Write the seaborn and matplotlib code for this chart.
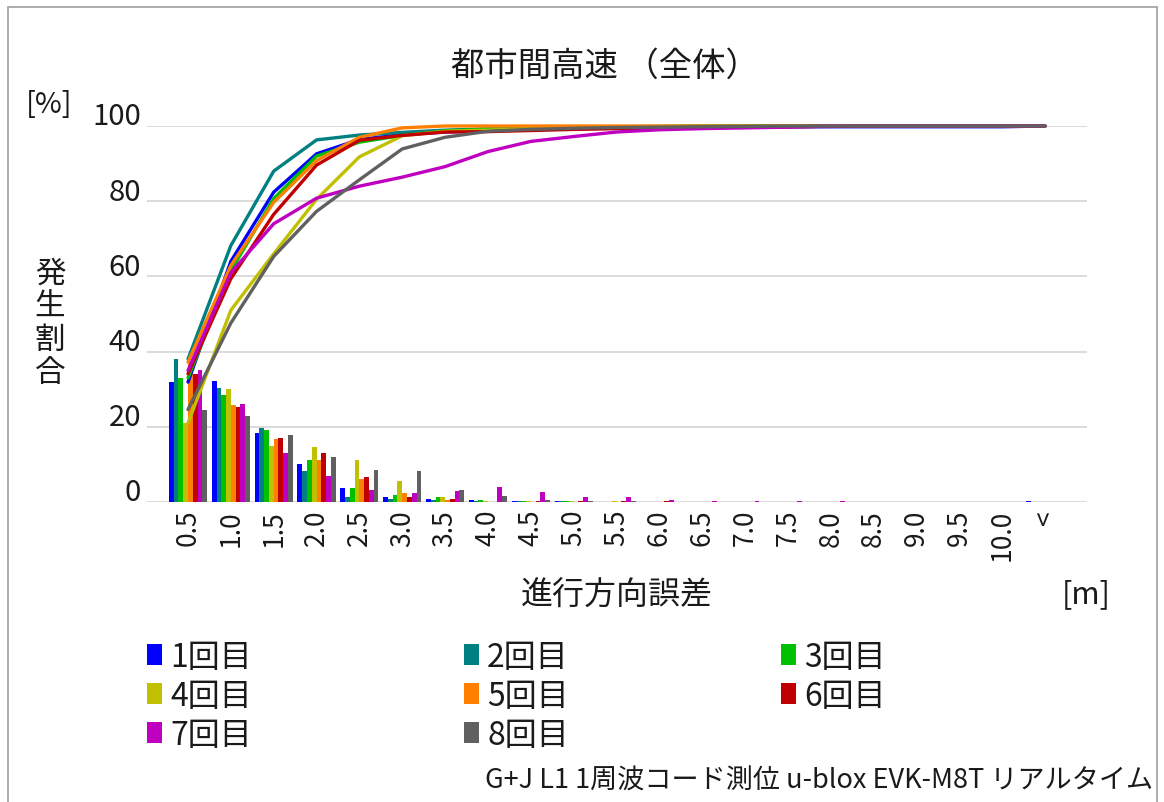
import numpy as np
import pandas as pd
import matplotlib
matplotlib.use("Agg")
import matplotlib.pyplot as plt
from matplotlib.patches import Patch
from matplotlib.lines import Line2D
import seaborn as sns

# Error bins along the travel direction [m]
bins = ["0.5", "1.0", "1.5", "2.0", "2.5", "3.0", "3.5", "4.0", "4.5", "5.0",
        "5.5", "6.0", "6.5", "7.0", "7.5", "8.0", "8.5", "9.0", "9.5", "10.0", "<"]

runs = ["1回目", "2回目", "3回目", "4回目", "5回目", "6回目", "7回目", "8回目"]
colors = ["#0000FF", "#008080", "#00C000", "#C0C000",
          "#FF8000", "#C00000", "#C000C0", "#606060"]

# Occurrence ratio per bin [%] for each run
run1 = [31.9, 32.1, 18.4, 10.2, 3.8, 1.3, 0.7, 0.4, 0.3, 0.2, 0.1, 0.1, 0.1, 0.1, 0.1, 0.0, 0.0, 0.0, 0.0, 0.0, 0.2]
run2 = [38.0, 30.2, 19.8, 8.3, 1.3, 0.7, 0.6, 0.3, 0.2, 0.2, 0.1, 0.1, 0.1, 0.1, 0.0, 0.0, 0.0, 0.0, 0.0, 0.0, 0.0]
run3 = [33.0, 28.5, 19.2, 11.3, 3.7, 1.8, 1.2, 0.5, 0.3, 0.2, 0.1, 0.1, 0.1, 0.0, 0.0, 0.0, 0.0, 0.0, 0.0, 0.0, 0.0]
run4 = [21.0, 30.0, 15.0, 14.5, 11.3, 5.6, 1.2, 0.3, 0.3, 0.2, 0.2, 0.1, 0.1, 0.1, 0.1, 0.0, 0.0, 0.0, 0.0, 0.0, 0.0]
run5 = [37.2, 25.7, 16.8, 11.1, 6.2, 2.5, 0.5, 0.0, 0.0, 0.0, 0.0, 0.0, 0.0, 0.0, 0.0, 0.0, 0.0, 0.0, 0.0, 0.0, 0.0]
run6 = [34.1, 25.3, 17.1, 13.1, 6.6, 1.3, 0.9, 0.1, 0.3, 0.3, 0.2, 0.2, 0.1, 0.1, 0.1, 0.1, 0.1, 0.0, 0.0, 0.0, 0.0]
run7 = [35.0, 26.0, 13.0, 6.8, 3.2, 2.4, 2.8, 4.0, 2.7, 1.3, 1.2, 0.6, 0.3, 0.2, 0.2, 0.3, 0.0, 0.0, 0.0, 0.0, 0.0]
run8 = [24.6, 23.0, 17.7, 12.0, 8.4, 8.2, 3.1, 1.6, 0.5, 0.3, 0.2, 0.1, 0.1, 0.1, 0.1, 0.0, 0.0, 0.0, 0.0, 0.0, 0.0]
series = [run1, run2, run3, run4, run5, run6, run7, run8]

yticks = [0, 20, 40, 60, 80, 100]

# Long-form tables: per-bin ratio and cumulative ratio
rows = []
for name, vals in zip(runs, series):
    cum = np.cumsum(vals)
    cum = cum / cum[-1] * 100.0
    for i, (b, v, c) in enumerate(zip(bins, vals, cum)):
        rows.append({"bin": b, "pos": i, "run": name, "pct": v, "cum": c})
df = pd.DataFrame(rows)

sns.set_theme(style="white")
plt.rcParams["font.family"] = ["Noto Sans CJK JP", "DejaVu Sans"]
TXT = "#1a1a1a"

W, H = 1164, 803
fig = plt.figure(figsize=(W / 100, H / 100), dpi=100)
fig.patch.set_facecolor("white")
ax = fig.add_axes([147 / W, 1 - 503 / H, (1087 - 147) / W, (503 - 127) / H])

pal = dict(zip(runs, colors))
sns.barplot(data=df, x="bin", y="pct", hue="run", hue_order=runs, order=bins,
            palette=pal, width=0.89, saturation=1, linewidth=0,
            legend=False, ax=ax)
sns.lineplot(data=df, x="pos", y="cum", hue="run", hue_order=runs, palette=pal,
             estimator=None, errorbar=None, sort=False, linewidth=2.4,
             legend=False, ax=ax)
for ln in ax.lines:
    ln.set_clip_on(False)
    ln.set_zorder(5)

ax.set_xlim(-0.957, 20.98)
ax.set_ylim(0, 100)
ax.set_yticks(yticks)
ax.set_xticks(range(len(bins)))
ax.set_xticklabels(bins)
ax.yaxis.grid(True, color="#d4d4d4", linewidth=1.2)
ax.xaxis.grid(False)
ax.set_axisbelow(True)
for s in ax.spines.values():
    s.set_visible(False)
ax.tick_params(axis="both", length=0, colors=TXT)
ax.tick_params(axis="y", labelleft=False)
ax.tick_params(axis="x", labelsize=19, pad=5, labelrotation=90)
ax.set_xlabel("")
ax.set_ylabel("")

# Value labels sit just above their gridlines
ytr = ax.get_yaxis_transform()
for v in yticks:
    ax.text(-6 / 940, v + 0.4, str(v), transform=ytr, ha="right", va="baseline",
            fontsize=21, color=TXT)

# Titles and axis captions
fig.text(605 / W, 1 - 66 / H, "都市間高速 （全体）", ha="center", va="center",
         fontsize=24, color=TXT)
fig.text(49 / W, 1 - 105 / H, "[%]", ha="center", va="center", fontsize=21, color=TXT)
for k, ch in enumerate("発生割合"):
    fig.text(50 / W, 1 - (274 + 33 * k) / H, ch, ha="center", va="center",
             fontsize=22, color=TXT)
fig.text(617 / W, 1 - 596 / H, "進行方向誤差", ha="center", va="center",
         fontsize=23, color=TXT)
fig.text(1086 / W, 1 - 595 / H, "[m]", ha="center", va="center", fontsize=22, color=TXT)
fig.text(1153 / W, 1 - 781 / H, "G+J L1 1周波コード測位 u-blox EVK-M8T リアルタイム",
         ha="right", va="center", fontsize=19.5, color=TXT)

# Legend laid out row by row in three columns
handles = [Patch(facecolor=c, edgecolor="none", label=r) for r, c in zip(runs, colors)]
order = [0, 3, 6, 1, 4, 7, 2, 5]
fig.legend([handles[i] for i in order], [runs[i] for i in order],
           ncol=3, loc="upper left", bbox_to_anchor=(147 / W, 1 - 642 / H),
           frameon=False, fontsize=23, handlelength=0.47, handleheight=0.62,
           handletextpad=0.25, columnspacing=6.65, labelspacing=0.22,
           borderpad=0, borderaxespad=0, labelcolor=TXT)

# Outer chart frame
fc = "#a6a6a6"
fig.add_artist(Line2D([8 / W, 8 / W], [0, 1 - 8 / H], transform=fig.transFigure, color=fc, lw=1.3))
fig.add_artist(Line2D([8 / W, 1157 / W], [1 - 8 / H, 1 - 8 / H], transform=fig.transFigure, color=fc, lw=1.3))
fig.add_artist(Line2D([1157 / W, 1157 / W], [0, 1 - 8 / H], transform=fig.transFigure, color=fc, lw=1.3))

fig.savefig("out.png", dpi=100, facecolor="white")
